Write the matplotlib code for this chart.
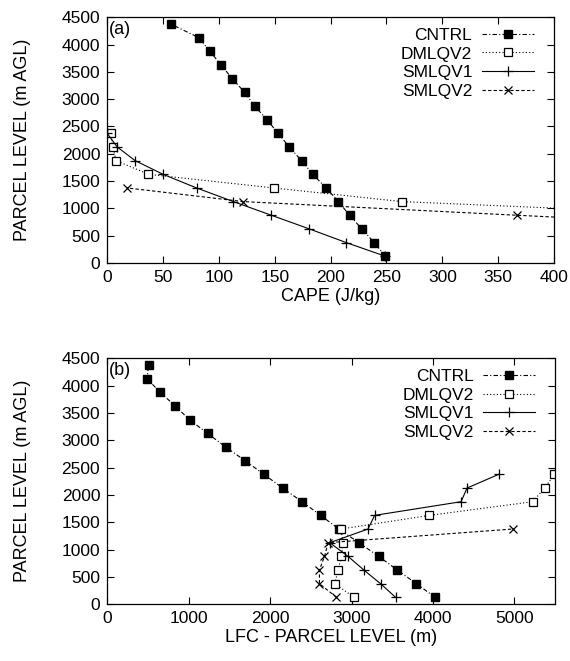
import numpy as np
import matplotlib.pyplot as plt

plt.rcParams['font.family'] = ['Liberation Sans', 'DejaVu Sans']
plt.rcParams['font.size'] = 12.5

# parcel levels (m AGL)
levels = [125, 375, 625, 875, 1125, 1375, 1625, 1875, 2125, 2375, 2625,
          2875, 3125, 3375, 3625, 3875, 4125, 4375]

# panel (a): CAPE (J/kg)
cape_cntrl = [249, 239, 228, 217, 207, 196, 184, 174, 163, 153, 143,
              132, 123, 112, 102, 92, 82, 57]
lev_dmlqv2_a = [875, 1125, 1375, 1625, 1875, 2125, 2375]
cape_dmlqv2 = [550, 264, 149, 37, 8, 5, 3]
lev_smlqv1_a = [125, 375, 625, 875, 1125, 1375, 1625, 1875, 2125, 2375]
cape_smlqv1 = [249, 214, 181, 147, 113, 80, 50, 25, 9, 0]
lev_smlqv2_a = [625, 875, 1125, 1375]
cape_smlqv2 = [620, 367, 122, 18]

# panel (b): LFC - parcel level (m)
lfc_cntrl = [4027, 3795, 3562, 3333, 3090, 2845, 2620, 2393, 2154, 1925,
             1693, 1456, 1232, 1011, 836, 652, 490, 509]
lev_dmlqv2_b = [125, 375, 625, 875, 1125, 1375, 1625, 1875, 2125, 2375]
lfc_dmlqv2 = [3031, 2794, 2835, 2876, 2896, 2870, 3957, 5222, 5373, 5487]
lev_smlqv1_b = [125, 375, 625, 875, 1125, 1375, 1625, 1875, 2125, 2375]
lfc_smlqv1 = [3541, 3356, 3151, 2957, 2733, 3202, 3284, 4345, 4418, 4806]
lev_smlqv2_b = [125, 375, 625, 875, 1125, 1375]
lfc_smlqv2 = [2815, 2606, 2606, 2668, 2713, 4977]

names = ['CNTRL', 'DMLQV2', 'SMLQV1', 'SMLQV2']
styles = [dict(ls=(0, (4, 2, 1, 2)), marker='s', mfc='black', ms=6),
          dict(ls=(0, (1, 2)), marker='s', mfc='white', ms=5.5, mew=0.9),
          dict(ls='-', marker='+', ms=6.5, mew=0.9),
          dict(ls=(0, (3, 2)), marker='x', ms=5.5, mew=0.9)]


def style_axes(ax, xmax, xticks, label, xlabel):
    ax.set_xlim(0, xmax)
    ax.set_ylim(0, 4500)
    ax.set_xticks(xticks)
    ax.set_yticks(np.arange(0, 4501, 500))
    ax.tick_params(direction='in', top=True, right=True, length=5, width=0.8,
                   pad=5)
    ax.set_ylabel('PARCEL LEVEL (m AGL)', fontsize=13, labelpad=22)
    ax.set_xlabel(xlabel, fontsize=13, labelpad=2)
    ax.text(0.003, 0.985, label, transform=ax.transAxes, ha='left', va='top',
            fontsize=13)
    ax.legend(loc='upper right', bbox_to_anchor=(0.955, 0.957), frameon=False,
              markerfirst=False, handlelength=3.0, borderaxespad=0,
              labelspacing=0.2, fontsize=12.5, handletextpad=0.55,
              borderpad=0)
    for s in ax.spines.values():
        s.set_linewidth(0.9)


fig = plt.figure(figsize=(5.7, 6.61), dpi=100)
ax1 = fig.add_axes([0.188, 0.602, 0.784, 0.372])
ax2 = fig.add_axes([0.188, 0.086, 0.786, 0.372])

series_a = [(cape_cntrl, levels), (cape_dmlqv2, lev_dmlqv2_a),
            (cape_smlqv1, lev_smlqv1_a), (cape_smlqv2, lev_smlqv2_a)]
series_b = [(lfc_cntrl, levels), (lfc_dmlqv2, lev_dmlqv2_b),
            (lfc_smlqv1, lev_smlqv1_b), (lfc_smlqv2, lev_smlqv2_b)]

for ax, series in [(ax1, series_a), (ax2, series_b)]:
    for (x, y), name, st in zip(series, names, styles):
        ax.plot(x, y, color='black', lw=0.8, mec='black', label=name, **st)

style_axes(ax1, 400, np.arange(0, 401, 50), '(a)', 'CAPE (J/kg)')
style_axes(ax2, 5500, np.arange(0, 5001, 1000), '(b)', 'LFC - PARCEL LEVEL (m)')

fig.savefig('out.png', dpi=100)
